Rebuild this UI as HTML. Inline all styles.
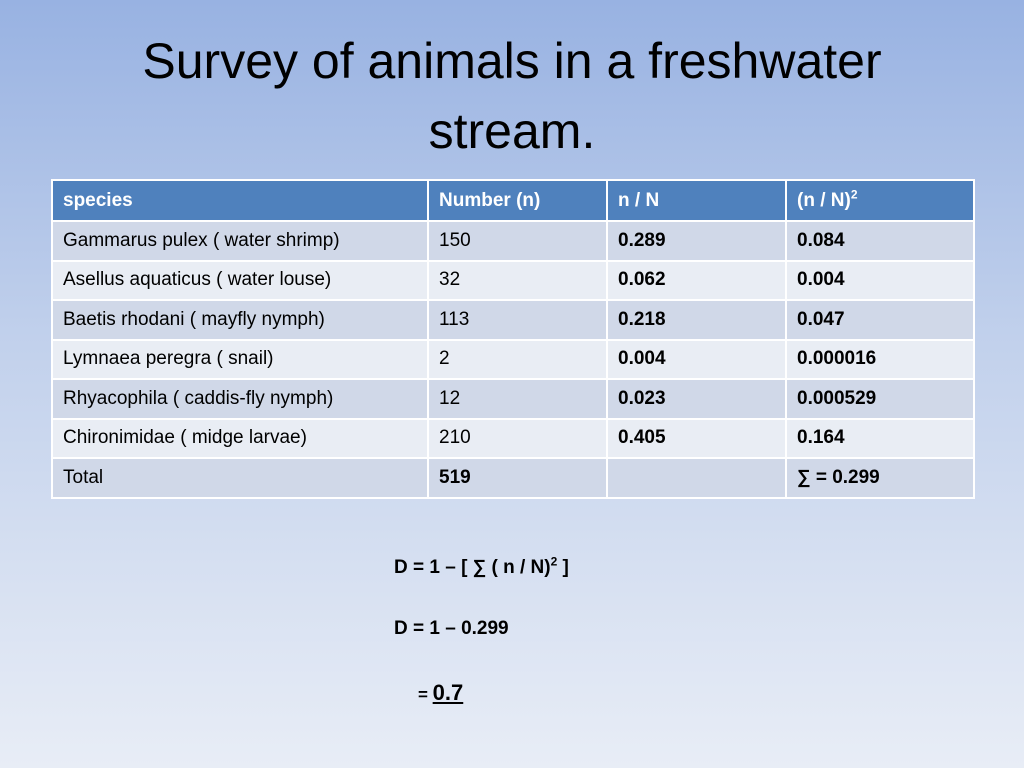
<!DOCTYPE html>
<html><head><meta charset="utf-8"><style>
body{margin:0;width:1024px;height:768px;overflow:hidden;background:linear-gradient(#98b2e2,#c2d1ec 45%,#e8edf6);font-family:"Liberation Sans",sans-serif;position:relative}
h1{position:absolute;left:0;width:1024px;top:26px;margin:0;text-align:center;font-weight:normal;font-size:50px;line-height:70px;color:#000}
table{position:absolute;left:51px;top:179px;border-collapse:collapse;font-size:19px}
td,th{border:2px solid #fff;height:39.5px;padding:0 0 0 10px;text-align:left;color:#000;font-weight:normal;box-sizing:border-box}
th{background:#4f81bd;color:#fff;font-weight:bold;height:41px}
sup{line-height:0}
tr:nth-child(even) td{background:#d0d8e8}
tr:nth-child(odd) td{background:#e9edf4}
.b{font-weight:bold}
.f{position:absolute;font-size:19px;font-weight:bold}
</style></head><body>
<h1>Survey of animals in a freshwater<br>stream.</h1>
<table>
<tr><th style="width:376px">species</th><th style="width:179px">Number (n)</th><th style="width:179px">n / N</th><th style="width:188px">(n / N)<sup style="font-size:12px">2</sup></th></tr>
<tr><td>Gammarus pulex ( water shrimp)</td><td>150</td><td class="b">0.289</td><td class="b">0.084</td></tr>
<tr><td>Asellus aquaticus ( water louse)</td><td>32</td><td class="b">0.062</td><td class="b">0.004</td></tr>
<tr><td>Baetis rhodani ( mayfly nymph)</td><td>113</td><td class="b">0.218</td><td class="b">0.047</td></tr>
<tr><td>Lymnaea peregra ( snail)</td><td>2</td><td class="b">0.004</td><td class="b">0.000016</td></tr>
<tr><td>Rhyacophila ( caddis-fly nymph)</td><td>12</td><td class="b">0.023</td><td class="b">0.000529</td></tr>
<tr><td>Chironimidae ( midge larvae)</td><td>210</td><td class="b">0.405</td><td class="b">0.164</td></tr>
<tr><td>Total</td><td class="b">519</td><td></td><td class="b">∑ = 0.299</td></tr>
</table>
<div class="f" style="left:394px;top:557px">D = 1 – [ ∑ ( n / N)<sup style="font-size:12px">2</sup> ]</div>
<div class="f" style="left:394px;top:618px">D = 1 – 0.299</div>
<div class="f" style="left:418px;top:680px"><span style="font-size:17px">= </span><span style="font-size:22px;text-decoration:underline">0.7</span></div>
</body></html>
